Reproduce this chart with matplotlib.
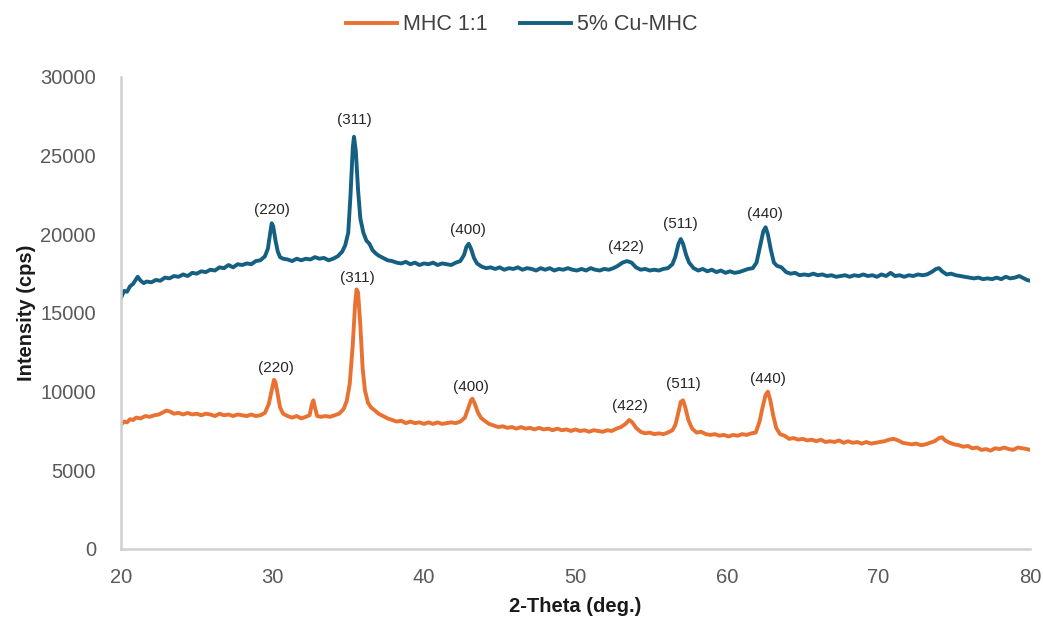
import numpy as np
import matplotlib
matplotlib.use("Agg")
import matplotlib.pyplot as plt

plt.rcParams['font.family'] = ['Liberation Sans', 'DejaVu Sans']

# 5% Cu-MHC (upper trace)
cu_theta = [20.0, 20.2, 20.4, 20.6, 20.8, 21.0, 21.1, 21.3, 21.5, 21.7, 22.0, 22.3, 22.6, 22.9,
            23.2, 23.5, 23.8, 24.1, 24.4, 24.7, 25.0, 25.3, 25.6, 25.9, 26.2, 26.5, 26.8, 27.1,
            27.4, 27.7, 28.0, 28.3, 28.6, 28.9, 29.2, 29.5, 29.7, 29.85, 29.95, 30.05, 30.2, 30.35,
            30.5, 30.7, 31.0, 31.3, 31.6, 31.9, 32.2, 32.5, 32.8, 33.1, 33.4, 33.7, 34.0, 34.3,
            34.6, 34.8, 35.0, 35.15, 35.3, 35.38, 35.5, 35.65, 35.8, 36.0, 36.2, 36.4, 36.6, 36.8,
            37.0, 37.3, 37.6, 37.9, 38.2, 38.5, 38.8, 39.1, 39.4, 39.7, 40.0, 40.3, 40.6, 40.9,
            41.2, 41.5, 41.8, 42.1, 42.4, 42.65, 42.8, 42.95, 43.1, 43.3, 43.5, 43.8, 44.1, 44.4,
            44.7, 45.0, 45.3, 45.6, 45.9, 46.2, 46.5, 46.8, 47.1, 47.4, 47.7, 48.0, 48.3, 48.6,
            48.9, 49.2, 49.5, 49.8, 50.1, 50.4, 50.7, 51.0, 51.3, 51.6, 51.9, 52.2, 52.5, 52.8,
            53.1, 53.4, 53.7, 54.0, 54.3, 54.6, 54.9, 55.2, 55.5, 55.8, 56.1, 56.4, 56.6, 56.8,
            56.95, 57.1, 57.3, 57.5, 57.8, 58.1, 58.4, 58.7, 59.0, 59.3, 59.6, 59.9, 60.2, 60.5,
            60.8, 61.1, 61.4, 61.7, 61.95, 62.2, 62.4, 62.55, 62.7, 62.9, 63.1, 63.3, 63.6, 63.9,
            64.2, 64.5, 64.8, 65.1, 65.4, 65.7, 66.0, 66.3, 66.6, 66.9, 67.2, 67.5, 67.8, 68.1,
            68.4, 68.7, 69.0, 69.3, 69.6, 69.9, 70.2, 70.5, 70.8, 71.1, 71.4, 71.7, 72.0, 72.3,
            72.6, 72.9, 73.2, 73.5, 73.8, 74.0, 74.2, 74.5, 74.8, 75.1, 75.4, 75.7, 76.0, 76.3,
            76.6, 76.9, 77.2, 77.5, 77.8, 78.1, 78.4, 78.7, 79.0, 79.3, 79.6, 79.8, 80.0]
cu_cps = [15950, 16400, 16350, 16700, 16850, 17150, 17300, 17050, 16900, 17000, 16950, 17100, 17050, 17250,
          17200, 17350, 17300, 17450, 17350, 17550, 17500, 17650, 17600, 17750, 17700, 17900, 17850, 18050,
          17900, 18100, 18050, 18150, 18100, 18300, 18350, 18600, 19100, 20100, 20700, 20500, 19600, 18900,
          18550, 18450, 18400, 18300, 18450, 18350, 18450, 18400, 18550, 18450, 18500, 18350, 18450, 18600,
          18900, 19300, 20100, 22500, 25500, 26200, 25300, 22800, 21000, 20100, 19600, 19400, 19000, 18800,
          18650, 18500, 18350, 18300, 18200, 18150, 18250, 18100, 18200, 18050, 18150, 18100, 18200, 18050,
          18150, 18100, 18050, 18200, 18300, 18700, 19200, 19400, 19100, 18500, 18150, 17950, 17850, 17900,
          17800, 17900, 17750, 17850, 17800, 17900, 17750, 17850, 17800, 17700, 17850, 17750, 17850, 17700,
          17800, 17750, 17850, 17750, 17700, 17800, 17700, 17850, 17750, 17700, 17800, 17750, 17850, 18000,
          18200, 18300, 18200, 17900, 17750, 17800, 17700, 17750, 17700, 17800, 17850, 18100, 18600, 19400,
          19700, 19400, 18700, 18200, 17850, 17700, 17800, 17650, 17750, 17600, 17700, 17550, 17650, 17550,
          17600, 17700, 17800, 17850, 18200, 19300, 20200, 20450, 20000, 19000, 18200, 18000, 17900, 17600,
          17500, 17550, 17400, 17450, 17400, 17500, 17400, 17450, 17350, 17400, 17300, 17350, 17400, 17300,
          17400, 17350, 17450, 17350, 17400, 17300, 17450, 17350, 17550, 17350, 17400, 17300, 17400, 17350,
          17450, 17400, 17450, 17600, 17800, 17850, 17650, 17450, 17500, 17400, 17350, 17300, 17250, 17200,
          17250, 17150, 17200, 17150, 17250, 17150, 17300, 17200, 17250, 17350, 17200, 17100, 17050]

# MHC 1:1 (lower trace)
mhc_theta = [20.0, 20.2, 20.4, 20.6, 20.8, 21.0, 21.3, 21.6, 21.9, 22.2, 22.5, 22.8, 23.0, 23.2,
             23.5, 23.8, 24.1, 24.4, 24.7, 25.0, 25.3, 25.6, 25.9, 26.2, 26.5, 26.8, 27.1, 27.4,
             27.7, 28.0, 28.3, 28.6, 28.9, 29.2, 29.5, 29.75, 29.95, 30.1, 30.2, 30.35, 30.5, 30.7,
             31.0, 31.3, 31.6, 31.9, 32.2, 32.45, 32.6, 32.7, 32.8, 32.95, 33.2, 33.5, 33.8, 34.1,
             34.4, 34.7, 34.9, 35.1, 35.3, 35.45, 35.55, 35.65, 35.8, 35.95, 36.1, 36.3, 36.5, 36.7,
             37.0, 37.3, 37.6, 37.9, 38.2, 38.5, 38.8, 39.1, 39.4, 39.7, 40.0, 40.3, 40.6, 40.9,
             41.2, 41.5, 41.8, 42.1, 42.4, 42.7, 42.9, 43.1, 43.2, 43.35, 43.55, 43.75, 44.0, 44.3,
             44.6, 44.9, 45.2, 45.5, 45.8, 46.1, 46.4, 46.7, 47.0, 47.3, 47.6, 47.9, 48.2, 48.5,
             48.8, 49.1, 49.4, 49.7, 50.0, 50.3, 50.6, 50.9, 51.2, 51.5, 51.8, 52.1, 52.4, 52.7,
             53.0, 53.3, 53.55, 53.75, 54.0, 54.3, 54.6, 54.9, 55.2, 55.5, 55.8, 56.1, 56.4, 56.6,
             56.8, 56.95, 57.1, 57.25, 57.45, 57.7, 58.0, 58.3, 58.6, 58.9, 59.2, 59.5, 59.8, 60.1,
             60.4, 60.7, 61.0, 61.3, 61.6, 61.9, 62.15, 62.35, 62.55, 62.7, 62.85, 63.05, 63.25, 63.5,
             63.8, 64.1, 64.4, 64.7, 65.0, 65.3, 65.6, 65.9, 66.2, 66.5, 66.8, 67.1, 67.4, 67.7,
             68.0, 68.3, 68.6, 68.9, 69.2, 69.5, 69.8, 70.1, 70.4, 70.7, 71.0, 71.3, 71.6, 71.9,
             72.2, 72.5, 72.8, 73.1, 73.4, 73.7, 74.0, 74.2, 74.4, 74.7, 75.0, 75.3, 75.6, 75.9,
             76.2, 76.5, 76.8, 77.1, 77.4, 77.7, 78.0, 78.3, 78.6, 78.9, 79.2, 79.5, 79.8, 80.0]
mhc_cps = [7900, 8100, 8050, 8250, 8200, 8350, 8300, 8450, 8400, 8500, 8550, 8700, 8800, 8750,
           8600, 8650, 8550, 8650, 8550, 8600, 8500, 8600, 8550, 8450, 8600, 8500, 8550, 8450,
           8550, 8500, 8450, 8550, 8450, 8500, 8650, 9200, 10100, 10750, 10600, 9800, 9000, 8600,
           8450, 8350, 8450, 8300, 8400, 8500, 9200, 9450, 9000, 8450, 8400, 8450, 8400, 8500,
           8600, 8900, 9400, 10500, 13000, 15500, 16500, 16300, 14200, 11500, 10100, 9300, 9000, 8850,
           8600, 8450, 8300, 8200, 8100, 8150, 8000, 8100, 8000, 8050, 7950, 8050, 7950, 8050,
           7950, 8000, 8050, 8000, 8100, 8350, 8900, 9450, 9550, 9250, 8700, 8350, 8150, 7950,
           7850, 7750, 7800, 7700, 7750, 7650, 7750, 7650, 7700, 7600, 7700, 7600, 7650, 7550,
           7650, 7550, 7600, 7500, 7600, 7500, 7550, 7450, 7550, 7500, 7450, 7550, 7500, 7650,
           7750, 7950, 8200, 8050, 7700, 7450, 7350, 7400, 7300, 7350, 7300, 7400, 7550, 7900,
           8700, 9350, 9450, 9000, 8200, 7650, 7400, 7450, 7300, 7250, 7300, 7200, 7250, 7150,
           7250, 7200, 7300, 7250, 7350, 7400, 8100, 9000, 9800, 10000, 9500, 8500, 7700, 7300,
           7200, 7000, 7050, 6950, 7000, 6900, 6950, 6850, 6950, 6800, 6850, 6800, 6900, 6750,
           6850, 6750, 6800, 6700, 6800, 6700, 6750, 6800, 6850, 6950, 7000, 6900, 6750, 6700,
           6650, 6700, 6600, 6650, 6750, 6850, 7050, 7100, 6900, 6750, 6650, 6600, 6500, 6550,
           6400, 6450, 6300, 6350, 6250, 6400, 6350, 6450, 6350, 6300, 6450, 6400, 6350, 6300]

# peak labels (Miller indices) and where they sit
peak_labels = ['(220)', '(311)', '(400)', '(422)', '(511)', '(440)']
cu_label_x = [29.95, 35.4, 42.9, 53.3, 56.9, 62.5]
cu_label_y = [21550, 27250, 20250, 19200, 20650, 21300]
mhc_label_x = [30.2, 35.6, 43.1, 53.6, 57.1, 62.7]
mhc_label_y = [11500, 17250, 10300, 9100, 10500, 10800]

orange = '#E97132'
blue = '#156082'

fig = plt.figure(figsize=(10.43, 6.28), dpi=100)
ax = fig.add_axes([0.116, 0.1258, 0.8715, 0.7516])

ax.plot(mhc_theta, mhc_cps, color=orange, lw=2.8, label='MHC 1:1')
ax.plot(cu_theta, cu_cps, color=blue, lw=2.8, label='5% Cu-MHC')

for lab, x, y in zip(peak_labels, cu_label_x, cu_label_y):
    ax.text(x, y, lab, ha='center', va='center', fontsize=11, color='#262626')
for lab, x, y in zip(peak_labels, mhc_label_x, mhc_label_y):
    ax.text(x, y, lab, ha='center', va='center', fontsize=11, color='#262626')

ax.set_xlim(20, 80)
ax.set_ylim(0, 30000)
ax.set_xticks(np.arange(20, 81, 10))
ax.set_yticks(np.arange(0, 30001, 5000))

for s in ['top', 'right']:
    ax.spines[s].set_visible(False)
for s in ['left', 'bottom']:
    ax.spines[s].set_color('#d0d0d0')
    ax.spines[s].set_linewidth(1.8)

ax.tick_params(axis='both', length=0, labelsize=14.5, labelcolor='#595959')
ax.tick_params(axis='y', pad=18)
ax.tick_params(axis='x', pad=14)

ax.set_xlabel('2-Theta (deg.)', fontsize=14.5, fontweight='bold', color='#1a1a1a')
ax.set_ylabel('Intensity (cps)', fontsize=14.5, fontweight='bold', color='#1a1a1a')
ax.xaxis.set_label_coords(0.5, -0.102)
ax.yaxis.set_label_coords(-0.094, 0.5)

fig.legend(loc='center', bbox_to_anchor=(0.5, 1 - 25 / 628), ncol=2, frameon=False,
           fontsize=15.5, handlelength=2.4, handletextpad=0.25, columnspacing=1.5,
           labelcolor='#404040')

fig.savefig('out.png', dpi=100)
